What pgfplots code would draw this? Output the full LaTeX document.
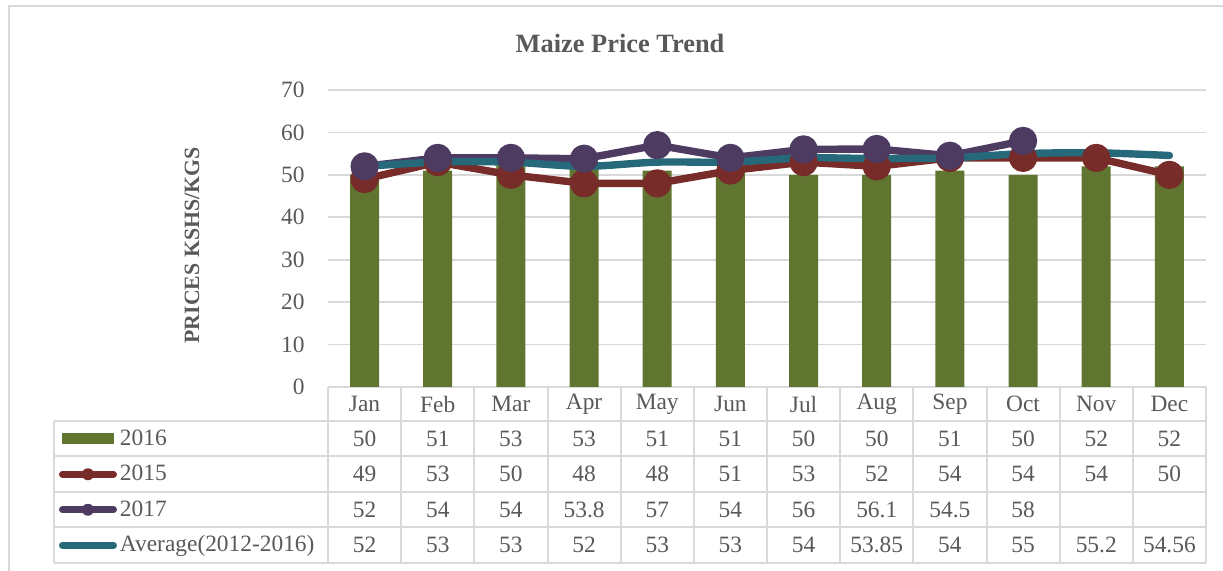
\documentclass[border=0pt]{standalone}
\usepackage{pgfplots}
\pgfplotsset{compat=1.18}
\usepackage{fontspec}
\setmainfont{Liberation Serif}
\definecolor{barGreen}{RGB}{96,117,48}
\definecolor{red15}{RGB}{119,44,42}
\definecolor{purple17}{RGB}{78,59,98}
\definecolor{tealAvg}{RGB}{38,105,122}
\definecolor{textGray}{RGB}{89,89,89}
\definecolor{gridGray}{RGB}{217,217,217}
\newcommand{\cellfont}{\fontsize{11.7}{13}\selectfont}
\begin{document}
\begin{tikzpicture}
\path[use as bounding box] (0,0) rectangle (611.5pt,-285.5pt);
% outer chart frame (left and top edges only are visible)
\draw[gridGray, line width=1pt] (4.5pt,-285.5pt) -- (4.5pt,-3.25pt) -- (611.5pt,-3.25pt);
% data table grid, in pixel units
\begin{scope}[x=0.5pt, y=-0.5pt, gridGray, line width=1pt]
  \draw (328,387) -- (1206,387);
  \foreach \yy in {421,456.5,492,527.5,563} \draw (54,\yy) -- (1206,\yy);
  \draw (54,421) -- (54,563);
  \foreach \k in {0,...,12} \draw ({328+73.1667*\k},387) -- ({328+73.1667*\k},563);
  \begin{scope}[every node/.style={font=\cellfont, text=textGray}]
  \foreach \v [count=\k] in {50,51,53,53,51,51,50,50,51,50,52,52}
    \node at ({328+73.1667*(\k-0.5)},438.75) {\v};
  \foreach \v [count=\k] in {49,53,50,48,48,51,53,52,54,54,54,50}
    \node at ({328+73.1667*(\k-0.5)},474.25) {\v};
  \foreach \v [count=\k] in {52,54,54,53.8,57,54,56,56.1,54.5,58}
    \node at ({328+73.1667*(\k-0.5)},509.75) {\v};
  \foreach \v [count=\k] in {52,53,53,52,53,53,54,53.85,54,55,55.2,54.56}
    \node at ({328+73.1667*(\k-0.5)},545.25) {\v};
  \end{scope}
\end{scope}
\begin{axis}[
    at={(164pt,-193.5pt)}, anchor=south west,
    scale only axis, width=439pt, height=148.5pt,
    xmin=0.5, xmax=12.5, ymin=0, ymax=70,
    clip=false,
    axis line style={draw=none},
    xtick={1,...,12},
    xticklabels={Jan,Feb,Mar,Apr,May,Jun,Jul,Aug,Sep,Oct,Nov,Dec},
    xticklabel style={anchor=center, inner sep=0pt, yshift=-8.5pt},
    ytick={0,10,...,70},
    yticklabel style={anchor=east, inner sep=0pt, xshift=-11.5pt},
    major tick length=0pt,
    ymajorgrids, grid style={gridGray, line width=0.8pt},
    tick label style={font=\cellfont, text=textGray},
    /pgf/number format/assume math mode=true,
    title={Maize Price Trend},
    title style={at={(axis description cs:0.3326,1.1178)}, anchor=center,
        font=\fontsize{13.2}{15}\selectfont\bfseries, text=textGray},
    ylabel={PRICES KSHS/KGS},
    ylabel style={at={(axis description cs:-0.1549,0.4764)}, anchor=center,
        rotate=0, font=\fontsize{10.9}{12}\selectfont\bfseries, text=textGray},
    legend cell align=left,
    legend style={at={(-0.3064,-0.1145)}, anchor=north west, draw=none, fill=none,
        inner sep=0pt, outer sep=0pt, row sep=0pt, column sep=1.5pt,
        nodes={minimum height=17.75pt, inner sep=0pt, anchor=west,
            text=textGray, font=\cellfont}},
]
\addplot[ybar, bar width=14.5pt, bar shift=0pt, fill=barGreen, draw=none,
    legend image code/.code={
        \path[draw=none, fill=none] (0pt,-3pt) rectangle (29pt,3pt);
        \fill[barGreen, draw=none] (1.5pt,-2.75pt) rectangle (27.35pt,2.75pt);}]
    coordinates {(1,50) (2,51) (3,53) (4,53) (5,51) (6,51) (7,50) (8,50) (9,51) (10,50) (11,52) (12,52)};
\addlegendentry{2016}
\addplot[color=red15, line width=3.7pt, line join=round,
    mark=*, mark size=5.2pt, mark options={draw=none, fill=red15},
    legend image code/.code={
        \path[draw=none, fill=none] (0pt,-3pt) rectangle (29pt,3pt);
        \draw[red15, fill=none, line width=3.5pt, line cap=round] (1.75pt,0pt) -- (27.25pt,0pt);
        \fill[red15, draw=none] (14.5pt,0pt) circle (3pt);}]
    coordinates {(1,49) (2,53) (3,50) (4,48) (5,48) (6,51) (7,53) (8,52) (9,54) (10,54) (11,54) (12,50)};
\addlegendentry{2015}
\addplot[color=purple17, line width=3.7pt, line join=round,
    mark=*, mark size=5.2pt, mark options={draw=none, fill=purple17},
    legend image code/.code={
        \path[draw=none, fill=none] (0pt,-3pt) rectangle (29pt,3pt);
        \draw[purple17, fill=none, line width=3.5pt, line cap=round] (1.75pt,0pt) -- (27.25pt,0pt);
        \fill[purple17, draw=none] (14.5pt,0pt) circle (3pt);}]
    coordinates {(1,52) (2,54) (3,54) (4,53.8) (5,57) (6,54) (7,56) (8,56.1) (9,54.5) (10,58)};
\addlegendentry{2017}
\addplot[color=tealAvg, line width=3.7pt, line join=round, line cap=round,
    smooth, tension=0.5,
    legend image code/.code={
        \path[draw=none, fill=none] (0pt,-3pt) rectangle (29pt,3pt);
        \draw[tealAvg, fill=none, line width=3.5pt, line cap=round] (1.75pt,0pt) -- (27.25pt,0pt);}]
    coordinates {(1,52) (2,53) (3,53) (4,52) (5,53) (6,53) (7,54) (8,53.85) (9,54) (10,55) (11,55.2) (12,54.56)};
\addlegendentry{Average(2012-2016)}
\end{axis}
\end{tikzpicture}
\end{document}
